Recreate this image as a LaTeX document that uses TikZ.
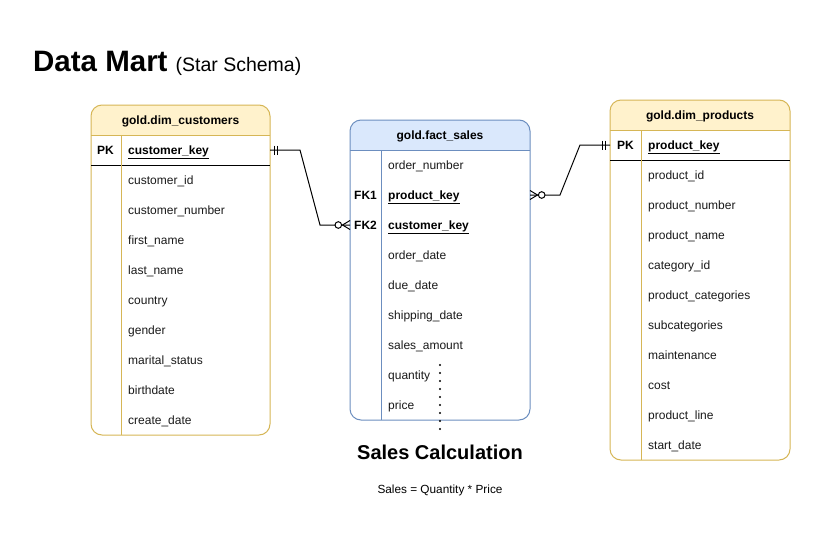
\documentclass[tikz,border=0pt]{standalone}
\usepackage{fontspec}
\setmainfont{Liberation Sans}
\usetikzlibrary{calc}
\definecolor{yfill}{HTML}{FFF2CC}
\definecolor{yline}{HTML}{D6B656}
\definecolor{bfill}{HTML}{DAE8FC}
\definecolor{bline}{HTML}{6C8EBF}
\definecolor{ftext}{HTML}{1A1A1A}
\tikzset{
  fld/.style={anchor=base west, inner sep=0pt, font=\fontsize{12}{14}\selectfont, text=ftext},
  keyfld/.style={anchor=base west, inner sep=0pt, font=\fontsize{12}{14}\selectfont\bfseries, text=black},
  hdr/.style={anchor=base, inner sep=0pt, font=\fontsize{12}{14}\selectfont\bfseries},
  conn/.style={draw=black, line width=1pt},
  mk/.style={draw=black, line width=1pt},
}
\begin{document}
\begin{tikzpicture}[x=1pt,y=-1pt]
\useasboundingbox (0,0) rectangle (821,533);
\fill[white] (0,0) rectangle (821,533);

% title
\node[anchor=base west, inner sep=0pt] (title) at (33,71)
  {{\fontsize{29.5}{32}\selectfont\bfseries Data Mart}\hspace{8pt}{\fontsize{19.5}{22}\selectfont (Star Schema)}};

% ---------- dim_customers ----------
\begin{scope}
  \clip (91,105) rectangle (270,135);
  \fill[yfill, rounded corners=11] (91,105) rectangle (270,435);
\end{scope}
\node[draw=yline, line width=1pt, rounded corners=11, minimum width=179pt, minimum height=330pt, inner sep=0pt] (cust) at (180.5,270) {};
\draw[yline, line width=1pt] (91,135) -- (270,135);
\draw[black, line width=1pt] (91,165) -- (270,165);
\draw[yline, line width=1pt] (121,135) -- (121,435);
\node[hdr] (custh) at (180.5,124) {gold.dim\_customers};
\node[keyfld] (custpkl) at (97,154) {PK};
\node[keyfld] (custk) at (128,154) {\underline{customer\_key}};
\node[fld] (c1) at (128,184) {customer\_id};
\node[fld] (c2) at (128,214) {customer\_number};
\node[fld] (c3) at (128,244) {first\_name};
\node[fld] (c4) at (128,274) {last\_name};
\node[fld] (c5) at (128,304) {country};
\node[fld] (c6) at (128,334) {gender};
\node[fld] (c7) at (128,364) {marital\_status};
\node[fld] (c8) at (128,394) {birthdate};
\node[fld] (c9) at (128,424) {create\_date};

% ---------- fact_sales ----------
\begin{scope}
  \clip (350,120) rectangle (530,150);
  \fill[bfill, rounded corners=11] (350,120) rectangle (530,420);
\end{scope}
\node[draw=bline, line width=1pt, rounded corners=11, minimum width=180pt, minimum height=300pt, inner sep=0pt] (fact) at (440,270) {};
\draw[bline, line width=1pt] (350,150) -- (530,150);
\draw[bline, line width=1pt] (381,150) -- (381,420);
\node[hdr] (facth) at (440,139) {gold.fact\_sales};
\node[fld] (f1) at (388,169) {order\_number};
\node[keyfld] (fk1l) at (354,199) {FK1};
\node[keyfld] (f2) at (388,199) {\underline{product\_key}};
\node[keyfld] (fk2l) at (354,229) {FK2};
\node[keyfld] (f3) at (388,229) {\underline{customer\_key}};
\node[fld] (f4) at (388,259) {order\_date};
\node[fld] (f5) at (388,289) {due\_date};
\node[fld] (f6) at (388,319) {shipping\_date};
\node[fld] (f7) at (388,349) {sales\_amount};
\node[fld] (f8) at (388,379) {quantity};
\node[fld] (f9) at (388,409) {price};

% ---------- dim_products ----------
\begin{scope}
  \clip (610,100) rectangle (790,130);
  \fill[yfill, rounded corners=11] (610,100) rectangle (790,460);
\end{scope}
\node[draw=yline, line width=1pt, rounded corners=11, minimum width=180pt, minimum height=360pt, inner sep=0pt] (prod) at (700,280) {};
\draw[yline, line width=1pt] (610,130) -- (790,130);
\draw[black, line width=1pt] (610,160) -- (790,160);
\draw[yline, line width=1pt] (641,130) -- (641,460);
\node[hdr] (prodh) at (700,119) {gold.dim\_products};
\node[keyfld] (prodpkl) at (617,149) {PK};
\node[keyfld] (prodk) at (648,149) {\underline{product\_key}};
\node[fld] (p1) at (648,179) {product\_id};
\node[fld] (p2) at (648,209) {product\_number};
\node[fld] (p3) at (648,239) {product\_name};
\node[fld] (p4) at (648,269) {category\_id};
\node[fld] (p5) at (648,299) {product\_categories};
\node[fld] (p6) at (648,329) {subcategories};
\node[fld] (p7) at (648,359) {maintenance};
\node[fld] (p8) at (648,389) {cost};
\node[fld] (p9) at (648,419) {product\_line};
\node[fld] (p10) at (648,449) {start\_date};

% ports
\coordinate (custPK) at (270,150);
\coordinate (factFK2) at (350,225);
\coordinate (factFK1) at (530,195);
\coordinate (prodPK) at (610,145);

% connector customers -> fact
\draw[conn] (custPK) -- ++(30,0) -- ($(factFK2)+(-30,0)$) -- (factFK2);
\draw[mk] ($(custPK)+(4.3,-4.5)$) -- ++(0,9);
\draw[mk] ($(custPK)+(7.7,-4.5)$) -- ++(0,9);
\draw[mk, fill=white] ($(factFK2)+(-11.7,0)$) circle (3.3pt);
\draw[mk] ($(factFK2)+(-7.5,0)$) -- ($(factFK2)+(0,-4.5)$);
\draw[mk] ($(factFK2)+(-7.5,0)$) -- ($(factFK2)+(0,4.5)$);

% connector fact -> products
\draw[conn] (factFK1) -- ++(30,0) -- ($(prodPK)+(-30,0)$) -- (prodPK);
\draw[mk] ($(prodPK)+(-4.3,-4.5)$) -- ++(0,9);
\draw[mk] ($(prodPK)+(-7.5,-4.5)$) -- ++(0,9);
\draw[mk, fill=white] ($(factFK1)+(11.7,0)$) circle (3.3pt);
\draw[mk] ($(factFK1)+(7.5,0)$) -- ($(factFK1)+(0,-4.5)$);
\draw[mk] ($(factFK1)+(7.5,0)$) -- ($(factFK1)+(0,4.5)$);

% sales calculation
\coordinate (dtop) at (440,365);
\node[anchor=base, inner sep=0pt, font=\fontsize{20}{23}\selectfont\bfseries] (calc) at (440,459) {Sales Calculation};
\draw[line width=2.2pt, line cap=round, dash pattern=on 0pt off 8pt] (dtop) -- ($(calc.north)+(0,-14)$);
\node[anchor=base, inner sep=0pt, font=\fontsize{11.8}{14}\selectfont] (formula) at (440,493) {Sales = Quantity * Price};
\end{tikzpicture}
\end{document}
